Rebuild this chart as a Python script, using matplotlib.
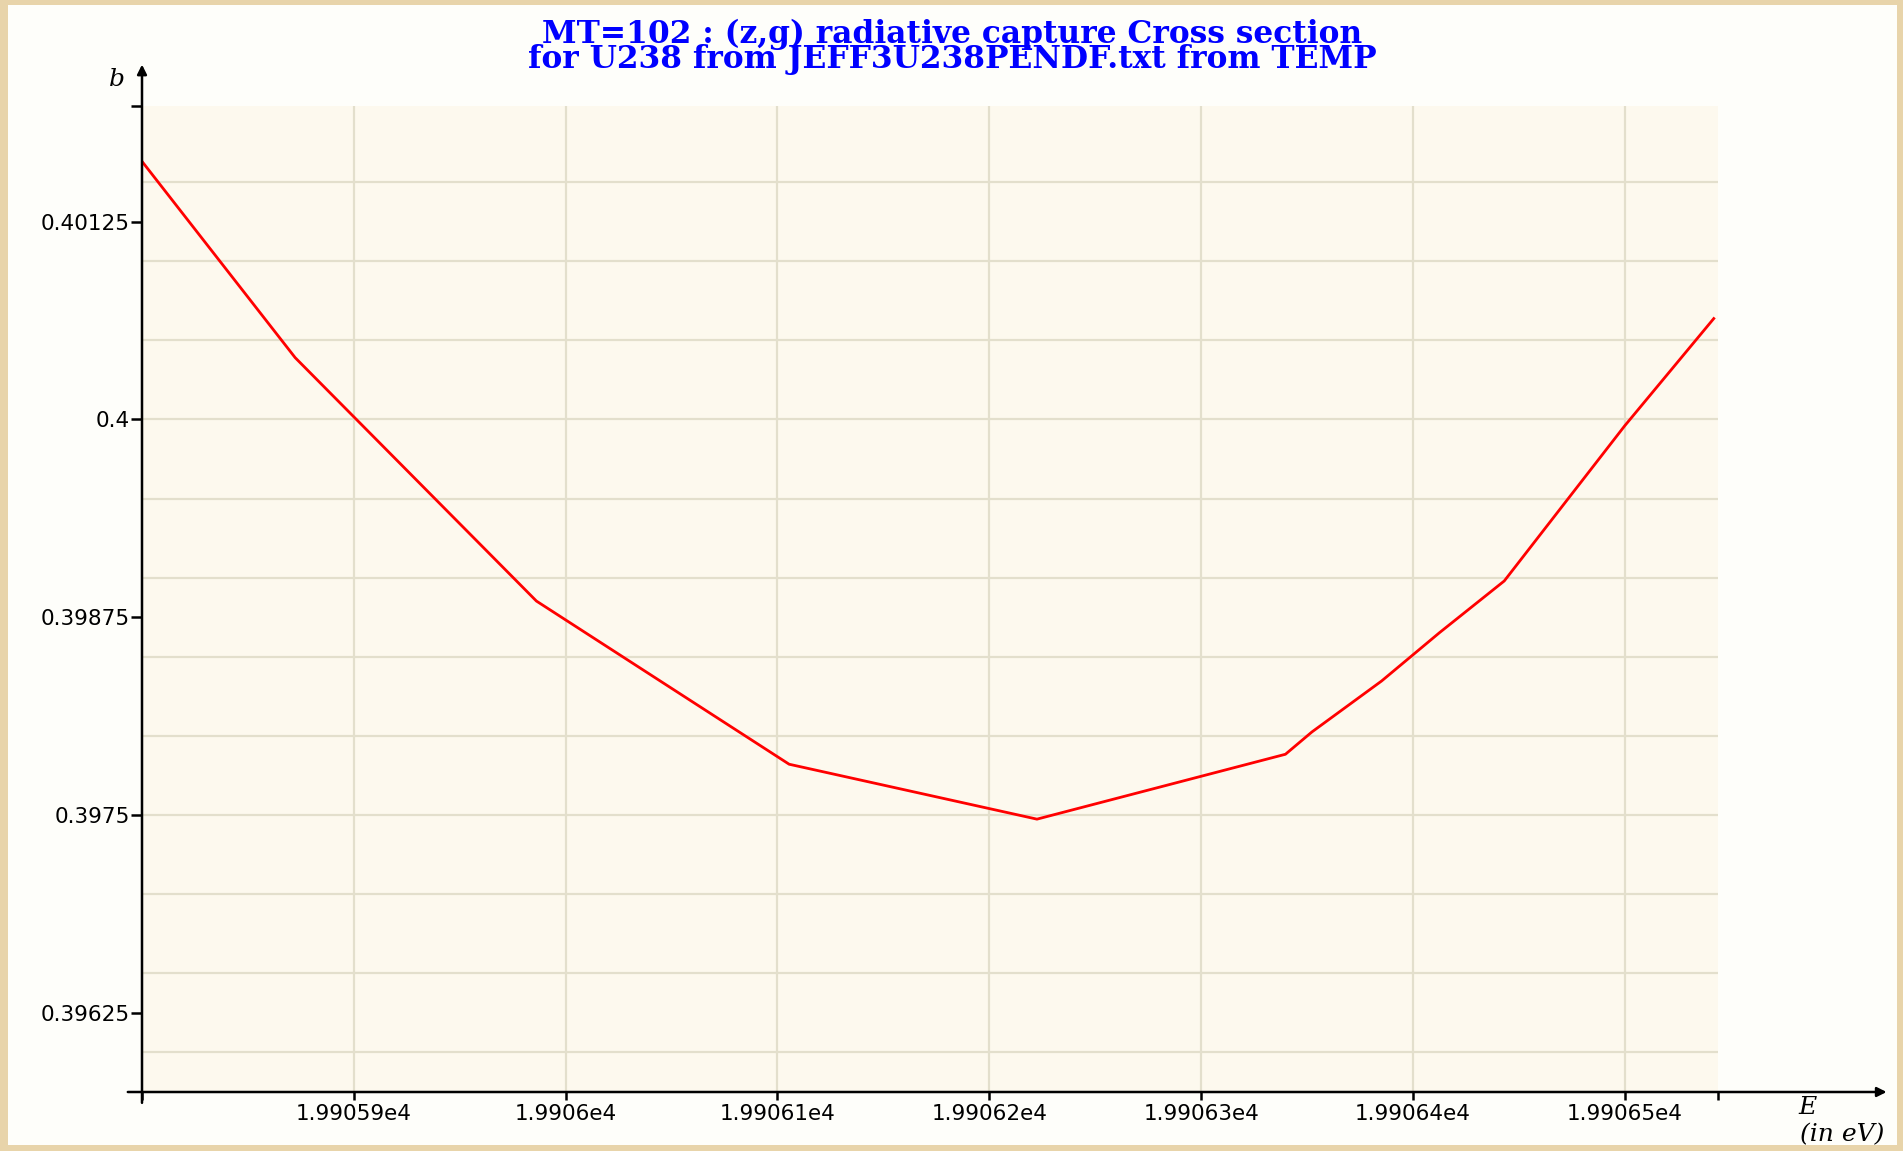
import matplotlib
matplotlib.use("Agg")
import matplotlib.pyplot as plt
from matplotlib.patches import Rectangle
from matplotlib.ticker import FixedLocator, FuncFormatter

# Data (energy in eV, cross section in barns)
energy = [19905.8, 19905.8723, 19905.9862, 19906.1055, 19906.2225, 19906.3398,
          19906.3523, 19906.3852, 19906.4125, 19906.4431, 19906.5, 19906.542]
xsec = [0.40163, 0.40039, 0.398852, 0.397821, 0.397474, 0.397884,
        0.398025, 0.398347, 0.398652, 0.398979, 0.39996, 0.400637]

x_ticks = [19905.9, 19906.0, 19906.1, 19906.2, 19906.3, 19906.4, 19906.5]
y_ticks = [0.39625, 0.3975, 0.39875, 0.4, 0.40125]
y_grid = [0.396, 0.3965, 0.397, 0.3975, 0.398, 0.3985, 0.399, 0.3995,
          0.4, 0.4005, 0.401, 0.4015]
x_lim = (19905.8, 19906.544)
y_lim = (0.39575, 0.40198)

title = ("MT=102 : (z,g) radiative capture Cross section\n"
         "for U238 from JEFF3U238PENDF.txt from TEMP")

W, H = 1903, 1151
fig = plt.figure(figsize=(W / 100, H / 100), dpi=100, facecolor="#e8d4aa")

# inner white panel inside the beige frame
fig.add_artist(Rectangle((8 / W, 6 / H), (W - 14) / W, (H - 11) / H,
                         transform=fig.transFigure, facecolor="#fefefa",
                         edgecolor="none", zorder=-1))

left, right, top, bottom = 142, 1718, 106, 1092
ax = fig.add_axes([left / W, (H - bottom) / H, (right - left) / W, (bottom - top) / H])
ax.set_facecolor("#fdf9ee")

# grid
for x in x_ticks:
    ax.axvline(x, color="#e3dfcc", lw=1.6, zorder=1)
for y in y_grid:
    ax.axhline(y, color="#e3dfcc", lw=1.6, zorder=1)

ax.plot(energy, xsec, color="#ff0000", lw=2.0, zorder=3)

ax.set_xlim(*x_lim)
ax.set_ylim(*y_lim)

for side in ["top", "right", "left", "bottom"]:
    ax.spines[side].set_visible(False)

# ticks: labelled majors plus bare ticks at the axis ends
ax.xaxis.set_major_locator(FixedLocator(x_ticks))
ax.xaxis.set_major_formatter(FuncFormatter(lambda v, p: f"{v / 1e4:g}e4"))
ax.xaxis.set_minor_locator(FixedLocator(list(x_lim)))
ax.yaxis.set_major_locator(FixedLocator(y_ticks))
ax.yaxis.set_major_formatter(FuncFormatter(lambda v, p: f"{v:g}"))
ax.yaxis.set_minor_locator(FixedLocator([y_lim[1]]))

ax.tick_params(axis="x", which="both", direction="out", length=6, width=1.8,
               color="black", pad=3, labelsize=15.5)
ax.tick_params(axis="y", which="both", direction="out", length=8, width=1.8,
               color="black", pad=1, labelsize=15.5)
for lab in ax.get_xticklabels() + ax.get_yticklabels():
    lab.set_family("DejaVu Sans")

# axis lines with arrows, running past the plot area
ax.annotate("", xy=(1.107, 0), xytext=(-0.009, 0), xycoords="axes fraction",
            arrowprops=dict(arrowstyle="-|>", color="black", lw=1.8,
                            mutation_scale=14, shrinkA=0, shrinkB=0))
ax.annotate("", xy=(0, 1.042), xytext=(0, -0.011), xycoords="axes fraction",
            arrowprops=dict(arrowstyle="-|>", color="black", lw=1.8,
                            mutation_scale=14, shrinkA=0, shrinkB=0))

# axis names
fig.text(117 / W, 1 - 80 / H, "b", family="DejaVu Serif", style="italic",
         fontsize=18, ha="center", va="center")
fig.text(1807 / W, 1 - 1108 / H, "E", family="DejaVu Serif", style="italic",
         fontsize=18, ha="center", va="center")
fig.text(1842 / W, 1 - 1135 / H, "(in eV)", family="DejaVu Serif", style="italic",
         fontsize=18, ha="center", va="center")

# two-line title, lines packed tightly as in the original
fig.text(952 / W, 1 - 47 / H, title, color="#0000ff", family="DejaVu Serif",
         fontweight="bold", fontsize=22.5, ha="center", va="center",
         linespacing=0.75)

fig.savefig("out.png", dpi=100, facecolor=fig.get_facecolor())
